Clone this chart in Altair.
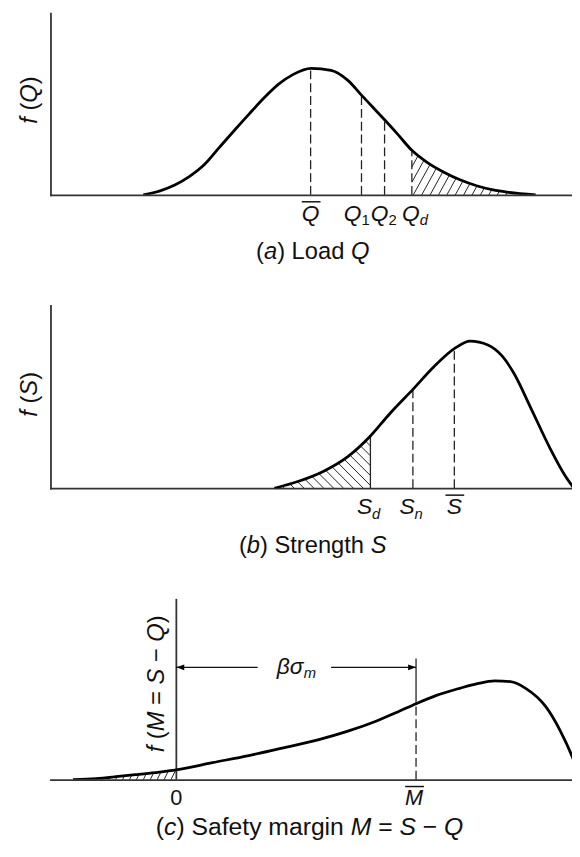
import altair as alt
import numpy as np
import pandas as pd

FONT = "Liberation Sans"
INK = "#111111"
AXIS_GREY = "#333333"

# ---------------- values ----------------
# (a) Load Q : x on a 0-100 load scale, f in % of the axis height
load_x = [17.7, 20.9, 23.7, 26.6, 29.4, 32.2, 35.0, 37.9, 40.7, 43.5, 46.3, 49.7,
          53.5, 56.7, 59.3, 61.6, 63.7, 66.1, 68.9, 71.8, 75.0, 78.2, 81.4, 84.4, 87.4, 92.5]
load_f = [0.0, 2.2, 5.4, 10.3, 16.8, 26.1, 35.3, 44.6, 53.3, 60.9, 66.3, 69.6,
          68.5, 63.0, 54.9, 47.8, 41.3, 33.7, 24.5, 17.9, 12.5, 8.2, 4.9, 2.7, 1.4, 0.0]
load_marks = [49.6, 59.3, 63.7, 68.9]            # Q-bar, Q1, Q2, Qd
load_names = ["Q", "Q", "Q", "Q"]
load_subs = ["", "1", "2", "d"]

# (b) Strength S
strength_x = [42.7, 47.3, 52.0, 56.7, 61.0, 64.6, 69.1, 73.1, 77.2, 80.0, 83.4,
              86.1, 88.3, 91.7, 95.3, 98.1, 99.8]
strength_f = [0.0, 3.8, 9.2, 17.3, 28.6, 40.5, 54.1, 66.5, 76.8, 80.5, 78.4,
              72.4, 63.2, 43.2, 21.6, 7.0, 0.0]
strength_marks = [61.0, 69.1, 77.0]              # Sd, Sn, S-bar
strength_names = ["S", "S", "S"]
strength_subs = ["d", "n", ""]

# (c) Safety margin M = S - Q
margin_x = [-19.7, -15.3, -11.5, -7.8, -4.0, 0.0, 6.9, 13.8, 19.5, 27.0, 32.7, 38.3,
            42.1, 45.7, 49.6, 54.0, 57.4, 60.7, 63.7, 66.6, 70.4, 73.2, 75.5, 76.0]
margin_f = [0.0, 0.6, 1.6, 2.7, 3.9, 5.4, 9.4, 13.3, 17.0, 22.0, 26.8, 32.6,
            37.3, 42.0, 46.6, 50.5, 53.1, 54.6, 54.2, 50.5, 40.5, 27.0, 12.5, 8.8]
margin_marks = [0.0, 45.7]                       # 0, M-bar
margin_names = ["0", "M"]
margin_mean_top = 67.0                           # top of the M-bar line
beta_level = 62.1                                # height of the beta*sigma_m arrow
beta_gap = [15.5, 29.5]                          # gap in the arrow for its label
beta_label_x = 22.9

cap_a = [("(", False), ("a", True), (") Load ", False), ("Q", True)]
cap_b = [("(", False), ("b", True), (") Strength ", False), ("S", True)]
cap_c = [("(", False), ("c", True), (") Safety margin ", False), ("M", True),
         (" = ", False), ("S", True), (" \u2212 ", False), ("Q", True)]

# ---------------- layout / style ----------------
PXU = 5.31                      # pixels per x unit
W = 528
HA, HB, HC = 184, 185, 183
GAP = 112
DOM_AB = [0, W / PXU]
DOM_C = [-24, -24 + W / PXU]
DOM_Y = [0, 100]

ARIAL = {" ": 278, "(": 333, ")": 333, "a": 556, "b": 556, "c": 500, "d": 556,
         "e": 556, "f": 278, "g": 556, "h": 556, "i": 222, "m": 833, "n": 556,
         "o": 556, "r": 333, "t": 278, "y": 500, "L": 556, "M": 833, "Q": 778,
         "S": 667, "=": 584, "\u2212": 584, "0": 556, "1": 556, "2": 556,
         "\u03b2": 575, "\u03c3": 610}


def tw(s, size):
    return sum(ARIAL.get(ch, 556) for ch in s) * size / 1000.0


def sc(dom):
    return alt.Scale(domain=dom, nice=False, zero=False)


def axis():
    return alt.Axis(domain=True, domainColor=AXIS_GREY, domainWidth=1.8, domainCap="square",
                    ticks=False, labels=False, grid=False, title=None)


def panel_spec(xdom, with_y_axis):
    return {"xs": sc(xdom), "ys": sc(DOM_Y), "xax": axis(),
            "yax": axis() if with_y_axis else None}


def ex(P, field="x"):
    return alt.X(f"{field}:Q", scale=P["xs"], axis=P["xax"])


def ey(P, field="y"):
    return alt.Y(f"{field}:Q", scale=P["ys"], axis=P["yax"])


def text_run(P, pieces, x, y, dy=0.0, angle=0, start=None):
    """pieces: (text, italic, size, extra_dy)"""
    total = sum(tw(p[0], p[2]) for p in pieces)
    off = -total / 2.0 if start is None else start
    df = pd.DataFrame({"x": [x], "y": [y]})
    out = []
    for text, ital, size, ddy in pieces:
        lead = len(text) - len(text.lstrip(" "))
        core = text.strip(" ")
        if core:
            out.append(
                alt.Chart(df).mark_text(
                    text=core, font=FONT, fontSize=size,
                    fontStyle="italic" if ital else "normal",
                    align="left", baseline="alphabetic",
                    dx=off + tw(" " * lead, size), dy=dy + ddy, angle=angle,
                    color=INK,
                ).encode(x=ex(P), y=ey(P)))
        off += tw(text, size)
    return out


def caption(P, pieces, x, dy, size=24):
    return text_run(P, [(t, i, size, 0) for t, i in pieces], x, 0, dy=dy)


def ytitle(P, pieces, x, y, dy):
    return text_run(P, [(t, i, 24, 0) for t, i in pieces], x, y, dy=dy, angle=270)


def mark_labels(P, vals, names, subs, name_ital, sub_ital, bars, dxs, size=23, sub_size=15):
    out = []
    for v, n, s, ni, si, bar, dx in zip(vals, names, subs, name_ital, sub_ital, bars, dxs):
        pieces = [(n, ni, size, 0)]
        if s:
            pieces.append((s, si, sub_size, 5))
        out += text_run(P, pieces, v, 0, dy=26, start=dx - tw(n, size) / 2)
        if bar:
            df = pd.DataFrame({"x": [v], "y": [0]})
            out.append(
                alt.Chart(df).mark_rule(color=INK, strokeWidth=1.5,
                                        xOffset=dx - 9, x2Offset=dx + 10,
                                        yOffset=7, y2Offset=7)
                .encode(x=ex(P), x2=alt.X2("x"), y=ey(P), y2=alt.Y2("y")))
    return out


def hatch(cx, cf, lo, hi, sy, slope, step_px, sign):
    cx = np.asarray(cx, float)
    cf = np.asarray(cf, float)
    t = np.arange(0, 260, 0.25)
    reach = 260 * slope / PXU
    start = lo - reach if sign > 0 else lo
    stop = hi if sign > 0 else hi + reach
    rows = []
    for x0 in np.arange(start, stop, step_px / PXU):
        x = x0 + sign * slope * t / PXU
        y = t / sy
        fx = np.interp(x, cx, cf, left=0, right=0)
        inside = (x >= lo) & (x <= hi) & (y <= fx)
        if not inside.any():
            continue
        i0 = int(np.argmax(inside))
        rest = inside[i0:]
        i1 = i0 + (len(rest) - 1 if rest.all() else int(np.argmin(rest)) - 1)
        if i1 - i0 < 8:
            continue
        rows.append(dict(x=x[i0], y=y[i0], x2=x[i1], y2=y[i1]))
    return pd.DataFrame(rows)


def rules(P, df, **kw):
    return alt.Chart(df).mark_rule(**kw).encode(
        x=ex(P), y=ey(P), x2=alt.X2("x2"), y2=alt.Y2("y2"))


def curve(P, xv, fv):
    return alt.Chart(pd.DataFrame({"x": xv, "f": fv})).mark_line(
        color="black", strokeWidth=2.8, interpolate="monotone", clip=True).encode(
        x=ex(P), y=ey(P, "f"))


DASH = dict(color="#222222", strokeWidth=1.3, strokeDash=[9, 4])
HATCH = dict(color="#222222", strokeWidth=1.0)

# ---------------- panel (a) ----------------
PA = panel_spec(DOM_AB, True)
tops_a = np.interp(load_marks, load_x, load_f)
dash_a = pd.DataFrame({"x": load_marks, "y": 0.0, "x2": load_marks, "y2": tops_a})
layers_a = [
    rules(PA, hatch(load_x, load_f, load_marks[3], DOM_AB[1], HA / 100, 0.55, 8.5, +1), **HATCH),
    rules(PA, dash_a, **DASH),
    curve(PA, load_x, load_f),
]
layers_a += mark_labels(PA, load_marks, load_names, load_subs, [True] * 4,
                        [False, False, False, True], [True, False, False, False],
                        [0, -9, -5, -1])
layers_a += caption(PA, cap_a, 50, 65)
layers_a += ytitle(PA, [("f", True), (" (", False), ("Q", True), (")", False)], 0, 52.2, -14)
panel_a = alt.layer(*layers_a).properties(width=W, height=HA)

# ---------------- panel (b) ----------------
PB = panel_spec(DOM_AB, True)
tops_b = np.interp(strength_marks, strength_x, strength_f)
dash_b = pd.DataFrame({"x": strength_marks[1:], "y": 0.0, "x2": strength_marks[1:], "y2": tops_b[1:]})
solid_b = pd.DataFrame({"x": strength_marks[:1], "y": 0.0, "x2": strength_marks[:1], "y2": tops_b[:1]})
layers_b = [
    rules(PB, hatch(strength_x, strength_f, strength_x[0], strength_marks[0], HB / 100, 1.0, 10, -1), **HATCH),
    rules(PB, solid_b, color="#222222", strokeWidth=1.3),
    rules(PB, dash_b, **DASH),
    curve(PB, strength_x, strength_f),
]
layers_b += mark_labels(PB, strength_marks, strength_names, strength_subs, [True] * 3,
                        [True, True, False], [False, False, True], [-6, -6, 0])
layers_b += caption(PB, cap_b, 50, 66)
layers_b += ytitle(PB, [("f", True), (" (", False), ("S", True), (")", False)], 0, 51.4, -14)
panel_b = alt.layer(*layers_b).properties(width=W, height=HB)

# ---------------- panel (c) ----------------
PC = panel_spec(DOM_C, False)
m_top = float(np.interp(margin_marks[1], margin_x, margin_f))
zero_axis = pd.DataFrame({"x": [0.0], "y": [0.0], "x2": [0.0], "y2": [DOM_Y[1]]})
mean_dash = pd.DataFrame({"x": [margin_marks[1]], "y": [0.0], "x2": [margin_marks[1]], "y2": [m_top]})
mean_solid = pd.DataFrame({"x": [margin_marks[1]], "y": [m_top], "x2": [margin_marks[1]], "y2": [margin_mean_top]})
arrow = pd.DataFrame({"x": [0.0, beta_gap[1]], "y": beta_level,
                      "x2": [beta_gap[0], margin_marks[1]], "y2": beta_level})
head_l = pd.DataFrame({"x": [0.0], "y": [beta_level]})
head_r = pd.DataFrame({"x": [margin_marks[1]], "y": [beta_level]})
layers_c = [
    rules(PC, hatch(margin_x, margin_f, DOM_C[0], 0.0, HC / 100, 0.5, 7, +1), **HATCH),
    rules(PC, zero_axis, color=AXIS_GREY, strokeWidth=1.8),
    rules(PC, mean_dash, **DASH),
    rules(PC, mean_solid, color="#222222", strokeWidth=1.3),
    rules(PC, arrow, color="#111111", strokeWidth=1.4),
    alt.Chart(head_l).mark_point(shape="M-1,0L1,-0.75L1,0.75Z", filled=True, size=64,
                                 color="black", opacity=1, strokeWidth=0, xOffset=4)
    .encode(x=ex(PC), y=ey(PC)),
    alt.Chart(head_r).mark_point(shape="M1,0L-1,-0.75L-1,0.75Z", filled=True, size=64,
                                 color="black", opacity=1, strokeWidth=0, xOffset=-4)
    .encode(x=ex(PC), y=ey(PC)),
    curve(PC, margin_x, margin_f),
]
layers_c += text_run(PC, [("\u03b2\u03c3", True, 23, 0), ("m", True, 15, 4)],
                     beta_label_x, beta_level, dy=7)
layers_c += mark_labels(PC, margin_marks, margin_names, ["", ""], [False, True],
                        [False, False], [False, True], [0, -2], size=22)
layers_c += caption(PC, cap_c, 25.4, 56, size=25)
layers_c += ytitle(PC, [("f", True), (" (", False), ("M", True), (" = ", False), ("S", True),
                        (" \u2212 ", False), ("Q", True), (")", False)], 0, 53.0, -13)
panel_c = alt.layer(*layers_c).properties(width=W, height=HC)

chart = (
    alt.vconcat(panel_a, panel_b, panel_c, spacing=GAP, bounds="flush")
    .properties(padding={"left": 9, "top": 0, "right": 0, "bottom": 0}, background="white")
    .configure_view(strokeWidth=0)
)

chart.save("out.html", embed_options={"renderer": "svg", "actions": False})
